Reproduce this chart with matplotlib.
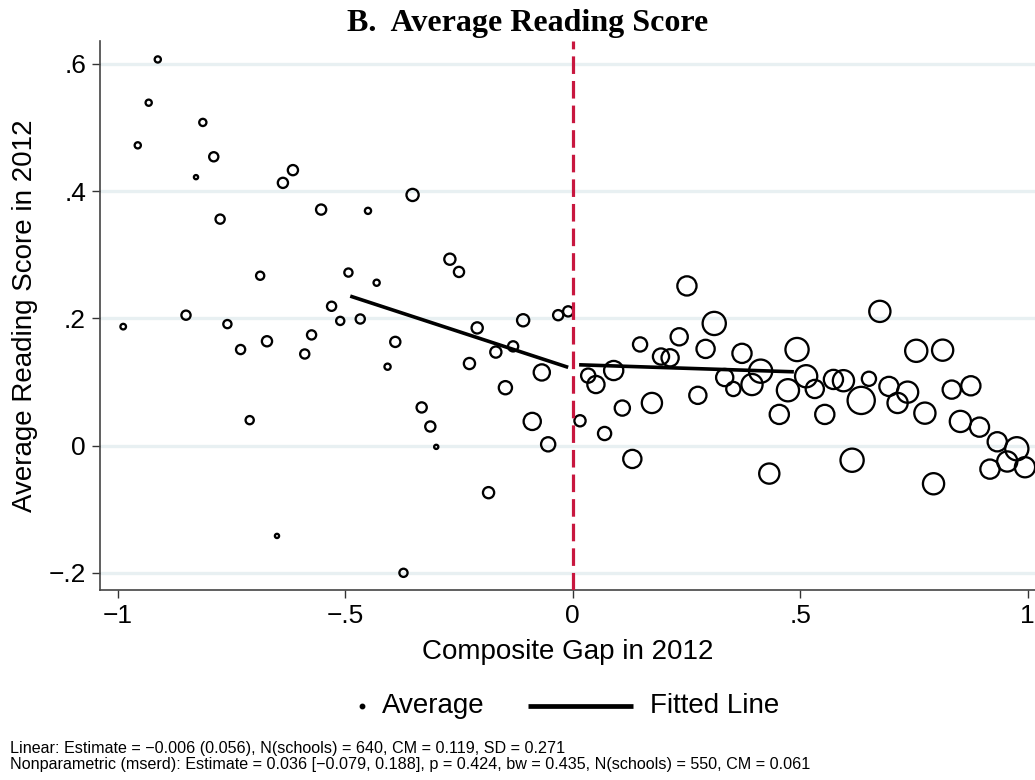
import matplotlib
matplotlib.use("Agg")
import matplotlib.pyplot as plt
from matplotlib.lines import Line2D
import numpy as np

# ---- data (binned averages) ----
gap_left = [-0.988, -0.956, -0.932, -0.912, -0.828, -0.813, -0.789, -0.850, -0.775, -0.759,
            -0.730, -0.710, -0.687, -0.672, -0.650, -0.637, -0.615, -0.589, -0.574, -0.553,
            -0.530, -0.511, -0.493, -0.467, -0.450, -0.431, -0.407, -0.390, -0.372, -0.352,
            -0.332, -0.313, -0.300, -0.270, -0.250, -0.227, -0.210, -0.185, -0.169, -0.148,
            -0.131, -0.109, -0.089, -0.068, -0.054, -0.032, -0.010]
score_left = [0.187, 0.472, 0.539, 0.607, 0.422, 0.508, 0.454, 0.205, 0.356, 0.191,
              0.151, 0.040, 0.267, 0.164, -0.142, 0.413, 0.433, 0.144, 0.174, 0.371,
              0.219, 0.196, 0.272, 0.199, 0.369, 0.256, 0.124, 0.163, -0.200, 0.394,
              0.060, 0.030, -0.002, 0.293, 0.273, 0.129, 0.185, -0.074, 0.147, 0.091,
              0.156, 0.197, 0.038, 0.115, 0.002, 0.205, 0.211]
weight_left = [3.2, 3.5, 3.5, 3.5, 2.5, 4, 5, 5, 5, 4.5,
               5, 4.5, 4.5, 5.5, 2.5, 5.5, 5.5, 5, 5, 5.5,
               5, 4.5, 4.5, 5, 3.5, 3.5, 3.5, 5.5, 4.5, 6.5,
               5.5, 5.5, 2.5, 6, 5.5, 6, 6, 6, 6, 7,
               5.5, 6.5, 9, 8.5, 7.5, 5.5, 5.5]

gap_right = [0.016, 0.034, 0.051, 0.070, 0.090, 0.109, 0.131, 0.148, 0.174, 0.194,
             0.214, 0.234, 0.251, 0.275, 0.292, 0.311, 0.334, 0.353, 0.372, 0.394,
             0.413, 0.432, 0.454, 0.473, 0.493, 0.513, 0.532, 0.554, 0.573, 0.595,
             0.614, 0.634, 0.651, 0.675, 0.695, 0.714, 0.736, 0.755, 0.774, 0.793,
             0.813, 0.833, 0.852, 0.875, 0.894, 0.917, 0.933, 0.955, 0.976, 0.994]
score_right = [0.039, 0.110, 0.096, 0.019, 0.118, 0.059, -0.021, 0.159, 0.067, 0.140,
               0.138, 0.171, 0.251, 0.079, 0.152, 0.192, 0.107, 0.089, 0.145, 0.096,
               0.117, -0.044, 0.049, 0.087, 0.151, 0.109, 0.089, 0.049, 0.104, 0.102,
               -0.023, 0.071, 0.105, 0.211, 0.093, 0.067, 0.084, 0.149, 0.051, -0.060,
               0.150, 0.088, 0.038, 0.094, 0.029, -0.037, 0.006, -0.025, -0.005, -0.034]
weight_right = [6, 7.5, 9, 7, 10, 8, 9.5, 7.5, 10.5, 8.5,
                9, 9, 10, 9, 9.5, 12, 9, 7.5, 10, 11,
                12, 10.5, 10, 11.5, 12, 11.5, 9.5, 10, 10, 11,
                12, 14, 7.5, 11, 10, 10.5, 11, 11.5, 11, 11,
                11, 9.5, 11, 10, 10, 10, 10, 10.5, 12, 10.5]

fit_left_x = [-0.489, -0.010]
fit_left_y = [0.235, 0.123]
fit_right_x = [0.014, 0.486]
fit_right_y = [0.127, 0.116]

xticks = [-1, -0.5, 0, 0.5, 1]
xticklabels = ["\u22121", "\u2212.5", "0", ".5", "1"]
yticks = [-0.2, 0, 0.2, 0.4, 0.6]
yticklabels = ["\u2212.2", "0", ".2", ".4", ".6"]

title = "B.  Average Reading Score"
xlabel = "Composite Gap in 2012"
ylabel = "Average Reading Score in 2012"
note1 = "Linear: Estimate = \u22120.006 (0.056), N(schools) = 640, CM = 0.119, SD = 0.271"
note2 = "Nonparametric (mserd): Estimate = 0.036 [\u22120.079, 0.188], p = 0.424, bw = 0.435, N(schools) = 550, CM = 0.061"

# ---- figure ----
W, H, DPI = 1035, 780, 100
fig = plt.figure(figsize=(W / DPI, H / DPI), dpi=DPI)
sans = "Liberation Sans"
ax = fig.add_axes([100 / W, 1 - 590 / H, (W - 100) / W, (590 - 41) / H])

px2pt = 72 / DPI
def sizes(w):
    return [((2 * r - 0.8) * px2pt) ** 2 for r in w]

gx = list(gap_left) + list(gap_right)
gy = list(score_left) + list(score_right)
gw = list(weight_left) + list(weight_right)
ax.scatter(gx, gy, s=sizes(gw), facecolors="none", edgecolors="black",
           linewidths=1.65, zorder=3)

ax.plot(fit_left_x, fit_left_y, color="black", lw=2.6, zorder=4, solid_capstyle="butt")
ax.plot(fit_right_x, fit_right_y, color="black", lw=2.6, zorder=4, solid_capstyle="butt")

ax.axvline(0, color="#c8173f", lw=2.3, dashes=(5.5, 2.2), zorder=5)

ax.set_xlim(-1.039, 1.016)
ax.set_ylim(-0.227, 0.636)

for yv in yticks:
    ax.axhline(yv, color="#e8f0f2", lw=2.4, zorder=1)

ax.set_xticks(xticks)
ax.set_xticklabels(xticklabels, fontsize=19, family=sans)
ax.set_yticks(yticks)
ax.set_yticklabels(yticklabels, fontsize=19, family=sans)
ax.tick_params(axis="both", direction="out", length=6, width=1.0, color="#333333", pad=4)

for sp in ["top", "right"]:
    ax.spines[sp].set_visible(False)
ax.spines["left"].set_color("#444444")
ax.spines["bottom"].set_color("#444444")
ax.spines["left"].set_linewidth(1.2)
ax.spines["bottom"].set_linewidth(1.2)

ax.set_xlabel(xlabel, fontsize=20, family=sans, labelpad=8)
ax.set_ylabel(ylabel, fontsize=20, family=sans, labelpad=8)

fig.text(527.5 / W, 1 - 23 / H, title, ha="center", va="center",
         fontsize=23, fontweight="bold", family="Liberation Serif")

# legend (manual)
ly = 1 - 706 / H
fig.add_artist(Line2D([362 / W], [ly], marker="o", markersize=3.2, color="black",
                      linestyle="none", transform=fig.transFigure))
fig.text(382 / W, ly, "Average", ha="left", va="center", fontsize=20, family=sans)
fig.add_artist(Line2D([528 / W, 633 / W], [ly, ly], color="black", lw=3.4,
                      transform=fig.transFigure, solid_capstyle="butt"))
fig.text(650 / W, ly, "Fitted Line", ha="left", va="center", fontsize=20, family=sans)

fig.text(10 / W, 1 - 748 / H, note1, ha="left", va="center", fontsize=11.6, family=sans)
fig.text(10 / W, 1 - 764 / H, note2, ha="left", va="center", fontsize=11.6, family=sans)

fig.savefig("out.png", dpi=DPI)
